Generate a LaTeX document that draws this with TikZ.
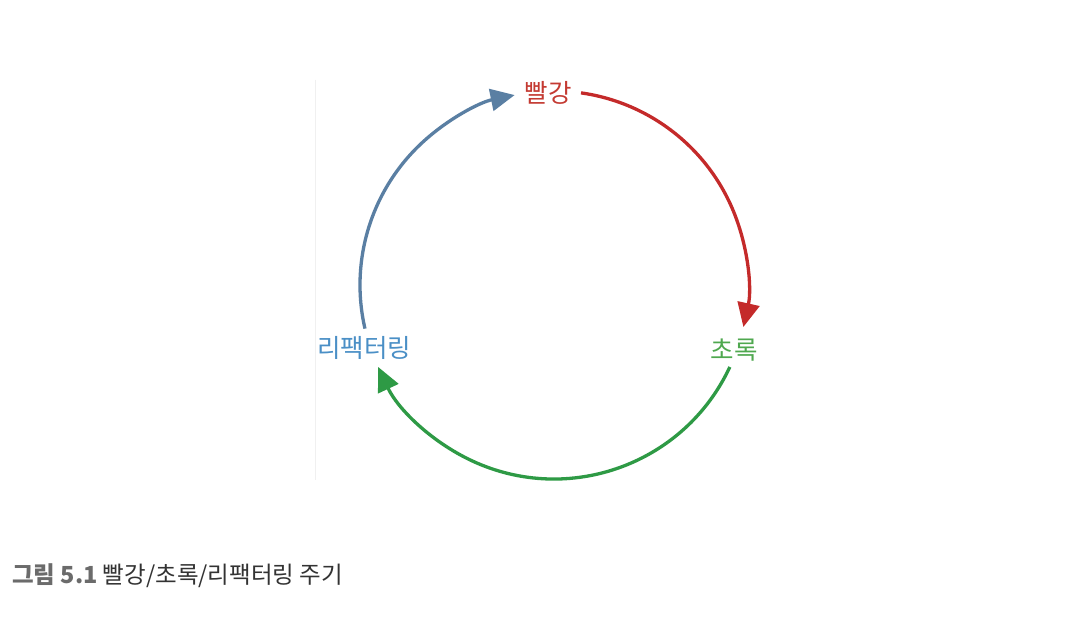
\documentclass[tikz,border=0pt]{standalone}
\usepackage{fontspec}
\newfontfamily\kr{Noto Sans CJK KR}
\usetikzlibrary{arrows.meta}
\definecolor{arcred}{HTML}{C42A2A}
\definecolor{arcgreen}{HTML}{2E9A45}
\definecolor{arcblue}{HTML}{5A7FA3}
\definecolor{lblred}{HTML}{C43A32}
\definecolor{lblgreen}{HTML}{4FA84F}
\definecolor{lblblue}{HTML}{4A8FC6}
\tikzset{
  cyclearc/.style={line width=3.3pt, -{Triangle[length=24pt,width=22pt]}},
  lbl/.style={font=\kr\fontsize{25.5}{29}\selectfont, inner sep=0pt},
}
\begin{document}
\begin{tikzpicture}[x=1pt,y=1pt]
\useasboundingbox (0,0) rectangle (1088,630);
\fill[white] (0,0) rectangle (1088,630);
\draw[black!6, line width=0.8pt] (315,550) -- (315,150);
\coordinate (c) at (554,345);
\node[lbl, text=lblred] (red) at (548,537) {빨강};
\node[lbl, text=lblgreen] (green) at (734,280) {초록};
\node[lbl, text=lblblue] (refactor) at (364,282) {리팩터링};
\draw[cyclearc, arcred] (c) ++(82:194) coordinate (r0) arc[start angle=82, end angle=-12.5, radius=194] coordinate (r1);
\draw[cyclearc, arcgreen] (c) ++(-25:194) coordinate (g0) arc[start angle=-25, end angle=-155, radius=194] coordinate (g1);
\draw[cyclearc, arcblue] (c) ++(193:194) coordinate (b0) arc[start angle=193, end angle=101.7, radius=194] coordinate (b1);
\node[anchor=base west, inner sep=0pt, font=\kr\fontsize{23.5}{28}\selectfont] (caption) at (12,47)
  {\textcolor{black!58}{\bfseries 그림 5.1} \textcolor{black!80}{빨강/초록/리팩터링 주기}};
\end{tikzpicture}
\end{document}
